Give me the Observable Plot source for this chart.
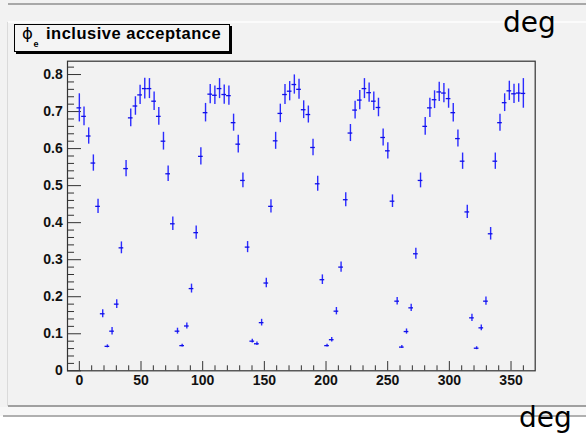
<!DOCTYPE html>
<html><head><meta charset="utf-8">
<script src="https://cdn.jsdelivr.net/npm/d3@7"></script>
<script src="https://cdn.jsdelivr.net/npm/@observablehq/plot@0.6"></script>
<style>
html,body{margin:0;padding:0;background:#fff;}
#page{position:relative;width:586px;height:434px;overflow:hidden;background:#f2f2f2;font-family:"Liberation Sans",Arial,sans-serif;}
.abs{position:absolute;}
</style></head><body>
<div id="page">
  <div class="abs" style="left:0;top:407px;width:586px;height:9px;background:#f7f7f7"></div>
  <div class="abs" style="left:0;top:416px;width:586px;height:18px;background:#ffffff"></div>
  <div class="abs" style="left:8px;top:3px;width:578px;height:2px;background:#a8a8a8"></div>
  <div class="abs" style="left:8px;top:21px;width:578px;height:2px;background:#fbfbfb"></div>
  <div class="abs" style="left:7px;top:22px;width:1px;height:384px;background:#dadada"></div>
  <div class="abs" style="left:8px;top:405px;width:578px;height:2px;background:#a0a0a0"></div>
  <div class="abs" style="left:3px;top:415px;width:583px;height:2px;background:#b0b0b0"></div>
  <div class="abs" style="left:14px;top:24px;width:214px;height:26px;border:1px solid #000;background:#f4f4f4;box-shadow:2px 2px 0 #000;"></div>
  <div id="chart" class="abs" style="left:0;top:0"></div>
  <svg class="abs" style="left:0;top:0;pointer-events:none" width="586" height="434">
    <text x="22" y="39" font-family="DejaVu Sans" font-size="16.5" fill="#000">ϕ</text>
    <text x="33.5" y="46.5" font-family="Liberation Sans" font-weight="bold" font-size="9" fill="#000">e</text>
    <text x="46" y="38.5" font-family="Liberation Sans" font-weight="bold" font-size="16.5" letter-spacing="0.5" fill="#000">inclusive acceptance</text>
    <text x="503" y="31.5" font-family="DejaVu Sans" font-size="28" fill="#000">deg</text>
    <text x="519" y="427" font-family="DejaVu Sans" font-size="28" fill="#000">deg</text>
  </svg>
</div>
<script>
// azimuthal angle (deg), acceptance and its uncertainty
const phiDeg = [0,3.79,7.58,11.37,15.16,18.95,22.74,26.53,30.32,34.11,37.89,41.68,45.47,49.26,53.05,56.84,
  60.63,64.42,68.21,72.0,75.79,79.58,83.37,87.16,90.95,94.74,98.53,102.32,106.11,109.89,113.68,117.47,
  121.26,125.05,128.84,132.63,136.42,140.21,144.0,147.79,151.58,155.37,159.16,162.95,166.74,170.53,174.32,178.11,
  181.89,185.68,189.47,193.26,197.05,200.84,204.63,208.42,212.21,216.0,219.79,223.58,227.37,231.16,234.95,238.74,
  242.53,246.32,250.11,253.89,257.68,261.47,265.26,269.05,272.84,276.63,280.42,284.21,288.0,291.79,295.58,299.37,
  303.16,306.95,310.74,314.53,318.32,322.11,325.89,329.68,333.47,337.26,341.05,344.84,348.63,352.42,356.21,360.0];
const acceptance = [0.710,0.687,0.634,0.561,0.444,0.154,0.066,0.107,0.180,0.332,0.546,0.683,0.715,0.745,0.762,0.762,
  0.728,0.687,0.620,0.532,0.397,0.107,0.068,0.121,0.222,0.373,0.579,0.697,0.747,0.744,0.762,0.746,
  0.743,0.670,0.612,0.514,0.334,0.080,0.073,0.130,0.237,0.444,0.621,0.695,0.746,0.755,0.773,0.760,
  0.705,0.692,0.603,0.505,0.246,0.068,0.084,0.161,0.280,0.462,0.642,0.704,0.731,0.762,0.751,0.728,
  0.711,0.630,0.594,0.458,0.188,0.064,0.106,0.170,0.316,0.514,0.660,0.710,0.732,0.753,0.750,0.735,
  0.697,0.627,0.566,0.429,0.143,0.061,0.116,0.188,0.370,0.566,0.670,0.724,0.756,0.748,0.750,0.749];
const accErr = [0.038,0.025,0.022,0.022,0.019,0.011,0.004,0.010,0.012,0.016,0.022,0.024,0.025,0.026,0.028,0.027,
  0.025,0.024,0.024,0.021,0.018,0.008,0.004,0.008,0.012,0.018,0.023,0.025,0.026,0.025,0.027,0.026,
  0.026,0.023,0.024,0.020,0.015,0.005,0.005,0.009,0.013,0.018,0.023,0.025,0.027,0.026,0.026,0.027,
  0.024,0.023,0.022,0.020,0.013,0.004,0.006,0.010,0.014,0.019,0.023,0.024,0.026,0.027,0.026,0.025,
  0.025,0.023,0.022,0.017,0.010,0.004,0.007,0.010,0.015,0.020,0.024,0.026,0.024,0.026,0.026,0.026,
  0.025,0.023,0.022,0.018,0.010,0.004,0.008,0.011,0.017,0.022,0.023,0.024,0.026,0.026,0.025,0.040];
const phiHalfWidth = 1.9;

const xTickValues = [0,50,100,150,200,250,300,350];
const xTickLabels = ["0","50","100","150","200","250","300","350"];
const yTickValues = [0,0.1,0.2,0.3,0.4,0.5,0.6,0.7,0.8];
const yTickLabels = ["0","0.1","0.2","0.3","0.4","0.5","0.6","0.7","0.8"];
const xMinorTicks = d3.range(0, 361, 10).filter(v => v % 50 !== 0);
const yMinorTicks = d3.range(0, 42, 1).map(v => v / 50).filter((v, i) => i % 5 !== 0);

const xDomain = [-9.6, 369.6];
const yDomain = [0, 0.836];

const data = phiDeg.map((p, i) => ({
  phi: p, acc: acceptance[i],
  lo: acceptance[i] - accErr[i], hi: acceptance[i] + accErr[i],
  xl: p - phiHalfWidth, xr: p + phiHalfWidth
}));

const chart = Plot.plot({
  width: 586, height: 434,
  marginLeft: 67, marginRight: 51.3, marginTop: 60.7, marginBottom: 63.7,
  style: {background: "transparent", fontFamily: "'Liberation Sans', Arial, sans-serif", color: "#111"},
  x: {domain: xDomain, label: null},
  y: {domain: yDomain, label: null},
  marks: [
    Plot.ruleX(xMinorTicks, {x: d => d, y1: 0, y2: 0.0135, stroke: "#333"}),
    Plot.ruleX(xTickValues, {x: d => d, y1: 0, y2: 0.025, stroke: "#333"}),
    Plot.ruleY(yMinorTicks, {y: d => d, x1: xDomain[0], x2: xDomain[0] + 5.7, stroke: "#333"}),
    Plot.ruleY(yTickValues, {y: d => d, x1: xDomain[0], x2: xDomain[0] + 11.35, stroke: "#333"}),
    Plot.ruleX(data, {x: "phi", y1: "lo", y2: "hi", stroke: "#2b2bff", strokeWidth: 1.4}),
    Plot.ruleY(data, {y: "acc", x1: "xl", x2: "xr", stroke: "#1010e8", strokeWidth: 1.3}),
    Plot.frame({stroke: "#333", strokeWidth: 1.2}),
    Plot.axisX(xTickValues, {tickSize: 0, tickPadding: 4, fontSize: 14, fontWeight: "bold", label: null,
      tickFormat: d => xTickLabels[xTickValues.indexOf(d)]}),
    Plot.axisY(yTickValues, {tickSize: 0, tickPadding: 4.7, fontSize: 14, fontWeight: "bold", label: null,
      tickFormat: d => yTickLabels[yTickValues.indexOf(d)]})
  ]
});
document.getElementById("chart").appendChild(chart);
</script>
</body></html>
